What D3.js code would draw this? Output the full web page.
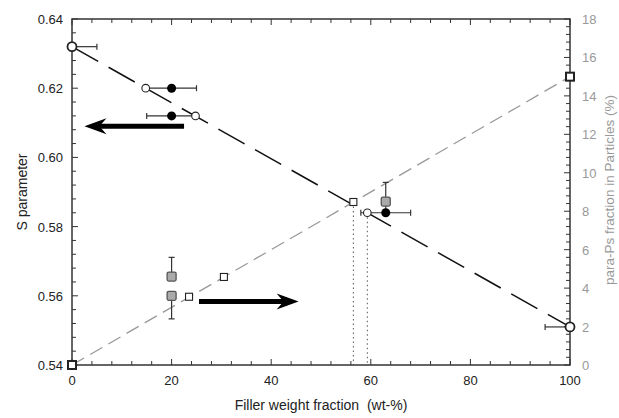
<!DOCTYPE html>
<html><head><meta charset="utf-8">
<script src="https://cdn.jsdelivr.net/npm/d3@7/dist/d3.min.js"></script>
<style>body{margin:0;background:#fff}svg{display:block}text{font-family:"Liberation Sans",Arial,sans-serif}</style>
</head><body><svg id="c" width="619" height="418"></svg>
<script>
// S parameter line and points
const sLine = [[0,0.632],[100,0.551]];
const sOpen = [ {x:0,y:0.632,xl:0,xh:5}, {x:14.8,y:0.620}, {x:24.8,y:0.612}, {x:59.3,y:0.584}, {x:100,y:0.551,xl:95,xh:100} ];
const sFilled = [ {x:20,y:0.620,xl:15,xh:25}, {x:20,y:0.612,xl:15,xh:25}, {x:63,y:0.584,xl:58,xh:68} ];
// para-Ps fraction
const pLine = [[0,0],[100,15]];
const pOpen = [ {x:0,y:0,big:true}, {x:23.5,y:3.55}, {x:30.5,y:4.58}, {x:56.5,y:8.48}, {x:100,y:15,big:true} ];
const pGrey = [ {x:20,y:4.6,yl:4.6,yh:5.6}, {x:20,y:3.6,yl:2.4,yh:3.6}, {x:63,y:8.5,yl:7.8,yh:9.5} ];
const xTicks = [0,20,40,60,80,100];
const yTicks = [0.54,0.56,0.58,0.60,0.62,0.64];
const y2Ticks = [0,2,4,6,8,10,12,14,16,18];

const svg = d3.select("#c");
const L=72,R=570,T=19,B=365;
const x = d3.scaleLinear().domain([0,100]).range([L,R]);
const y = d3.scaleLinear().domain([0.54,0.64]).range([B,T]);
const y2 = d3.scaleLinear().domain([0,18]).range([B,T]);
const axc="#333", grey="#999";

// minor/major ticks inward
const g = svg.append("g");
d3.range(0,100.1,4).forEach(v=>{
  const maj = v%20===0;
  const len = maj?6:4;
  g.append("line").attr("x1",x(v)).attr("x2",x(v)).attr("y1",B).attr("y2",B-len).attr("stroke",axc);
  g.append("line").attr("x1",x(v)).attr("x2",x(v)).attr("y1",T).attr("y2",T+len).attr("stroke",axc);
});
d3.range(0.54,0.6401,0.004).forEach(v=>{
  const maj = Math.abs(Math.round(v*1000)%20)===0;
  g.append("line").attr("x1",L).attr("x2",L+(maj?6:4)).attr("y1",y(v)).attr("y2",y(v)).attr("stroke",axc);
});
d3.range(0,18.01,0.4).forEach(v=>{
  const maj = Math.abs(v-Math.round(v/2)*2)<1e-6;
  g.append("line").attr("x1",R).attr("x2",R-(maj?6:4)).attr("y1",y2(v)).attr("y2",y2(v)).attr("stroke",axc);
});
g.append("rect").attr("x",L).attr("y",T).attr("width",R-L).attr("height",B-T).attr("fill","none").attr("stroke",axc).attr("stroke-width",1.5);

// tick labels
svg.append("g").selectAll("text").data(yTicks).join("text")
  .attr("x",L-9).attr("y",d=>y(d)+5).attr("text-anchor","end").attr("font-size",13).attr("fill","#222")
  .text(d=>d3.format(".2f")(d));
svg.append("g").selectAll("text").data(y2Ticks).join("text")
  .attr("x",R+12).attr("y",d=>y2(d)+5).attr("text-anchor","start").attr("font-size",13).attr("fill",grey)
  .text(d=>d);
svg.append("g").selectAll("text").data(xTicks).join("text")
  .attr("x",d=>x(d)).attr("y",B+20).attr("text-anchor","middle").attr("font-size",13).attr("fill","#222")
  .text(d=>d);

// axis titles
svg.append("text").attr("x",x(50)).attr("y",410).attr("text-anchor","middle").attr("font-size",14).attr("fill","#222")
  .attr("xml:space","preserve").text("Filler weight fraction  (wt-%)");
svg.append("text").attr("transform",`translate(27,${(T+B)/2}) rotate(-90)`).attr("text-anchor","middle").attr("font-size",14).attr("fill","#222").text("S parameter");
svg.append("text").attr("transform",`translate(614,${(T+B)/2 - 2}) rotate(-90)`).attr("text-anchor","middle").attr("font-size",13.5).attr("fill",grey).text("para-Ps fraction in Particles (%)");

// lines
svg.append("path").attr("d",d3.line().x(d=>x(d[0])).y(d=>y2(d[1]))(pLine)).attr("stroke",grey).attr("stroke-width",1.3).attr("fill","none").attr("stroke-dasharray","14,7");
svg.append("path").attr("d",d3.line().x(d=>x(d[0])).y(d=>y(d[1]))(sLine)).attr("stroke","#111").attr("stroke-width",1.5).attr("fill","none").attr("stroke-dasharray","30,12");

// dotted verticals
svg.append("line").attr("x1",x(56.5)).attr("x2",x(56.5)).attr("y1",y2(8.48)).attr("y2",B).attr("stroke","#555").attr("stroke-dasharray","1.5,3");
svg.append("line").attr("x1",x(59.3)).attr("x2",x(59.3)).attr("y1",y(0.584)).attr("y2",B).attr("stroke","#555").attr("stroke-dasharray","1.5,3");

// error bars
function hbar(d,ys){ if(d.xl===undefined) return;
  svg.append("line").attr("x1",x(d.xl)).attr("x2",x(d.xh)).attr("y1",ys(d.y)).attr("y2",ys(d.y)).attr("stroke","#333").attr("stroke-width",1.2);
  [d.xl,d.xh].forEach(v=>{ if(v!==d.x) svg.append("line").attr("x1",x(v)).attr("x2",x(v)).attr("y1",ys(d.y)-3).attr("y2",ys(d.y)+3).attr("stroke","#333").attr("stroke-width",1.2);});
}
function vbar(d){
  svg.append("line").attr("x1",x(d.x)).attr("x2",x(d.x)).attr("y1",y2(d.yl)).attr("y2",y2(d.yh)).attr("stroke","#333").attr("stroke-width",1.2);
  [d.yl,d.yh].forEach(v=>{ if(v!==d.y) svg.append("line").attr("x1",x(d.x)-3).attr("x2",x(d.x)+3).attr("y1",y2(v)).attr("y2",y2(v)).attr("stroke","#333").attr("stroke-width",1.2);});
}
sOpen.forEach(d=>hbar(d,y));
sFilled.forEach(d=>hbar(d,y));
pGrey.forEach(vbar);

// markers
pGrey.forEach(d=>svg.append("rect").attr("x",x(d.x)-4.5).attr("y",y2(d.y)-4.5).attr("width",9).attr("height",9).attr("rx",1.5).attr("fill","#aaa").attr("stroke","#555").attr("stroke-width",1.3));
pOpen.forEach(d=>{const s=d.big?8:7; svg.append("rect").attr("x",x(d.x)-s/2).attr("y",y2(d.y)-s/2).attr("width",s).attr("height",s).attr("fill","#fff").attr("stroke","#222").attr("stroke-width",d.big?2:1.1);});
sFilled.forEach(d=>svg.append("circle").attr("cx",x(d.x)).attr("cy",y(d.y)).attr("r",4.5).attr("fill","#000"));
sOpen.forEach(d=>svg.append("circle").attr("cx",x(d.x)).attr("cy",y(d.y)).attr("r",(d.x===0||d.x===100)?4.5:3.8).attr("fill","#fff").attr("stroke","#222").attr("stroke-width",(d.x===0||d.x===100)?1.8:1.1));

// arrows
function arrow(x1,x2,yy,dir){
  svg.append("line").attr("x1",x1).attr("x2",x2-dir*14).attr("y1",yy).attr("y2",yy).attr("stroke","#000").attr("stroke-width",5);
  const tip=x2, back=x2-dir*22;
  svg.append("path").attr("d",`M${tip},${yy} L${back},${yy-8} L${x2-dir*15},${yy} L${back},${yy+8} Z`).attr("fill","#000");
}
arrow(x(22.5),x(2.5),y(0.6090),-1);
arrow(x(25.5),x(45.5),y2(3.3),1);
</script></body></html>
